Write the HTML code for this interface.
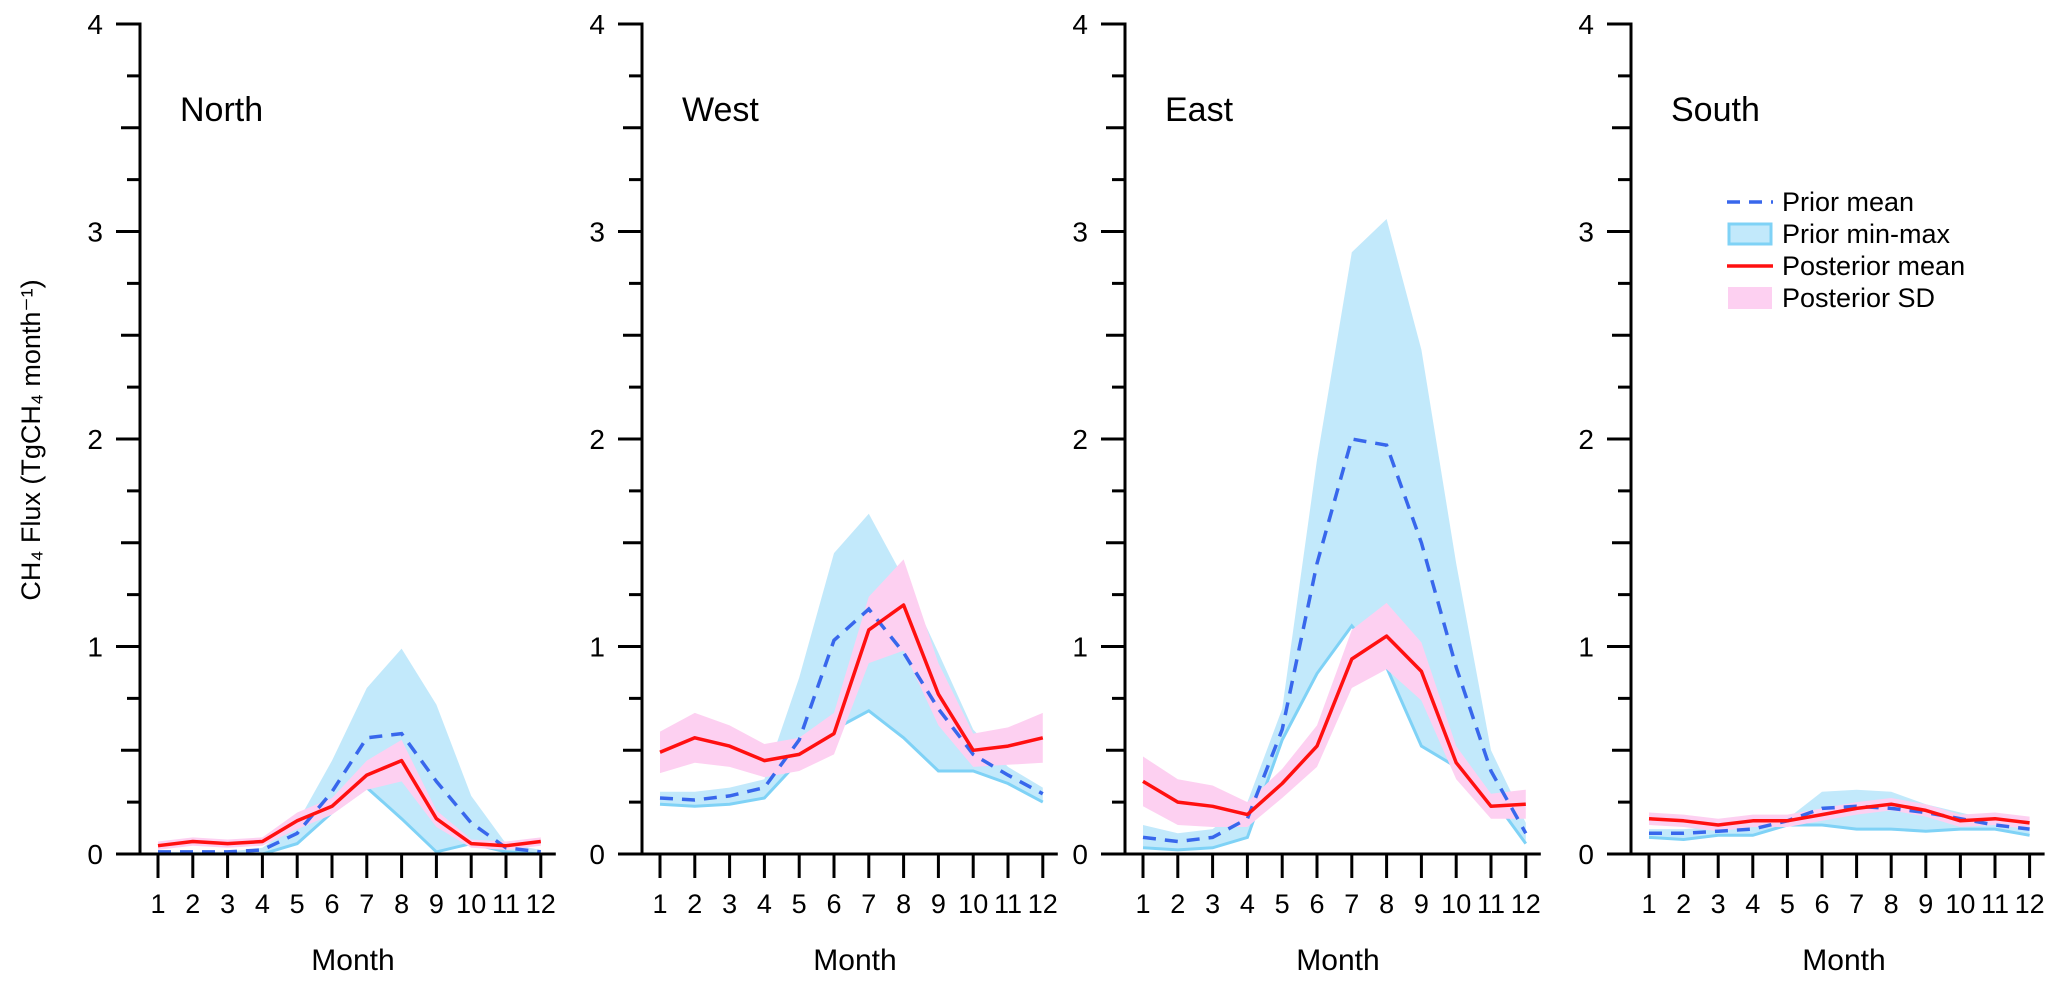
<!DOCTYPE html>
<html><head><meta charset="utf-8"><style>
html,body{margin:0;padding:0;background:#fff;}
svg{display:block;font-family:"Liberation Sans",Arial,sans-serif;}
</style></head><body>
<svg id="chart" width="2067" height="985" viewBox="0 0 2067 985" xmlns="http://www.w3.org/2000/svg"></svg>
<script>
const months = [1,2,3,4,5,6,7,8,9,10,11,12];
const yTicks = [0,1,2,3,4];
const regions = ["North","West","East","South"];
const northPriorMean = [0.01,0.01,0.01,0.02,0.1,0.3,0.56,0.58,0.35,0.15,0.03,0.01];
const northPriorMin  = [0,0,0,0,0.05,0.2,0.32,0.17,0.01,0.05,0.01,0.0];
const northPriorMax  = [0.01,0.01,0.01,0.03,0.15,0.45,0.8,0.99,0.72,0.28,0.05,0.02];
const northPostMean  = [0.04,0.06,0.05,0.06,0.16,0.23,0.38,0.45,0.17,0.05,0.04,0.06];
const northPostSD    = [0.02,0.02,0.02,0.02,0.04,0.04,0.07,0.1,0.04,0.02,0.02,0.02];
const westPriorMean = [0.27,0.26,0.28,0.32,0.55,1.03,1.18,0.97,0.7,0.48,0.38,0.29];
const westPriorMin  = [0.24,0.23,0.24,0.27,0.45,0.6,0.69,0.56,0.4,0.4,0.34,0.25];
const westPriorMax  = [0.3,0.3,0.32,0.36,0.85,1.45,1.64,1.33,0.97,0.6,0.42,0.32];
const westPostMean  = [0.49,0.56,0.52,0.45,0.48,0.58,1.08,1.2,0.77,0.5,0.52,0.56];
const westPostSD    = [0.1,0.12,0.1,0.08,0.08,0.1,0.16,0.22,0.15,0.08,0.09,0.12];
const eastPriorMean = [0.08,0.06,0.08,0.17,0.6,1.4,2.0,1.97,1.5,0.9,0.4,0.1];
const eastPriorMin  = [0.03,0.02,0.03,0.08,0.55,0.87,1.1,0.9,0.52,0.42,0.28,0.05];
const eastPriorMax  = [0.14,0.1,0.12,0.25,0.7,1.9,2.9,3.06,2.43,1.4,0.5,0.15];
const eastPostMean  = [0.35,0.25,0.23,0.19,0.34,0.52,0.94,1.05,0.88,0.44,0.23,0.24];
const eastPostSD    = [0.12,0.11,0.1,0.06,0.07,0.1,0.14,0.16,0.14,0.08,0.06,0.07];
const southPriorMean = [0.1,0.1,0.11,0.12,0.16,0.22,0.23,0.22,0.2,0.17,0.14,0.12];
const southPriorMin  = [0.08,0.07,0.09,0.09,0.14,0.14,0.12,0.12,0.11,0.12,0.12,0.09];
const southPriorMax  = [0.12,0.12,0.13,0.16,0.17,0.3,0.31,0.3,0.24,0.2,0.16,0.13];
const southPostMean  = [0.17,0.16,0.14,0.16,0.16,0.19,0.22,0.24,0.21,0.16,0.17,0.15];
const southPostSD    = [0.03,0.03,0.03,0.03,0.03,0.03,0.03,0.03,0.03,0.03,0.03,0.03];

const series = [
 [northPriorMean,northPriorMin,northPriorMax,northPostMean,northPostSD],
 [westPriorMean,westPriorMin,westPriorMax,westPostMean,westPostSD],
 [eastPriorMean,eastPriorMin,eastPriorMax,eastPostMean,eastPostSD],
 [southPriorMean,southPriorMin,southPriorMax,southPostMean,southPostSD]
];
const axisXs = [140,642,1125,1631];
const svg = document.getElementById('chart');
const NS = 'http://www.w3.org/2000/svg';
function el(tag, attrs, parent){const e=document.createElementNS(NS,tag);for(const k in attrs)e.setAttribute(k,attrs[k]);(parent||svg).appendChild(e);return e;}
const Y0=854, PU=207.5;
function yS(v){return Y0-PU*v;}

regions.forEach((name,pi)=>{
  const ax=axisXs[pi];
  const step = pi===3?34.6:34.8;
  const xS = m => ax+18+(m-1)*step;
  const g = el('g',{});
  
  
  const [pm,pmin,pmax,qm,qsd]=series[pi];
  const pts = arr => arr.map((v,i)=>xS(months[i]).toFixed(1)+','+yS(v).toFixed(1));
  const band = el('polygon',{points:pts(pmax).concat(pts(pmin).reverse()).join(' '),fill:'#c2e9fb'},g);
  
  
  const low = el('polyline',{points:pts(pmin).join(' '),fill:'none',stroke:'#7fd2f6','stroke-width':3},g);
  
  
  const up = qm.map((v,i)=>v+qsd[i]), dn = qm.map((v,i)=>Math.max(0,v-qsd[i]));
  const sd = el('polygon',{points:pts(up).concat(pts(dn).reverse()).join(' '),fill:'#fdd0f1'},g);
  
  
  const pml = el('polyline',{points:pts(pm).join(' '),fill:'none',stroke:'#3867ec','stroke-width':3.5,'stroke-dasharray':'13,9'},g);
  
  
  const qml = el('polyline',{points:pts(qm).join(' '),fill:'none',stroke:'#ff1010','stroke-width':3.5,'stroke-linejoin':'round'},g);
  
  
  const ya = el('line',{x1:ax,y1:yS(4)-1.5,x2:ax,y2:Y0,stroke:'#000','stroke-width':3},g);
  
  
  for(let k=0;k<=16;k++){
    const v=k/4; const len = k%4===0?24:(k%2===0?19:13);
    el('line',{x1:ax-len,y1:yS(v),x2:ax,y2:yS(v),stroke:'#000','stroke-width':3},g);
  }
  yTicks.forEach(t=>{
    const tx = el('text',{x:ax-37,y:yS(t)+10,'text-anchor':'end','font-size':28},g);
    tx.textContent=t;
    
    
  });
  const xa = el('line',{x1:ax-23,y1:Y0,x2:xS(12)+15,y2:Y0,stroke:'#000','stroke-width':3},g);
  
  
  months.forEach(m=>{
    el('line',{x1:xS(m),y1:Y0,x2:xS(m),y2:Y0+24,stroke:'#000','stroke-width':3},g);
    const tx = el('text',{x:xS(m),y:913,'text-anchor':'middle','font-size':27},g);
    tx.textContent=m;
    
    
  });
  const xt = el('text',{x:ax+213,y:970,'text-anchor':'middle','font-size':30},g);
  xt.textContent='Month';
  
  
  const tt = el('text',{x:ax+40,y:121,'font-size':34},g);
  tt.textContent=name;
  
  
});
const yt = el('text',{x:0,y:0,'text-anchor':'middle','font-size':27,transform:'translate(40,440) rotate(-90)'});
yt.textContent='CH\u2084 Flux (TgCH\u2084 month\u207B\u00B9)';


const lg = el('g',{});


const LX=1727, rows=[202,234,266,298];
el('line',{x1:LX,y1:rows[0],x2:LX+46,y2:rows[0],stroke:'#3867ec','stroke-width':3.5,'stroke-dasharray':'13,9'},lg);
el('rect',{x:LX+2,y:rows[1]-10,width:42,height:20,fill:'#c2e9fb',stroke:'#7fd2f6','stroke-width':3},lg);
el('line',{x1:LX,y1:rows[2],x2:LX+46,y2:rows[2],stroke:'#ff1010','stroke-width':3.5},lg);
el('rect',{x:LX+1,y:rows[3]-11,width:44,height:22,fill:'#fdd0f1'},lg);
['Prior mean','Prior min-max','Posterior mean','Posterior SD'].forEach((t,i)=>{
  const tx = el('text',{x:LX+55,y:rows[i]+9,'font-size':27},lg);
  tx.textContent=t;
  
  
});
</script>
</body></html>
